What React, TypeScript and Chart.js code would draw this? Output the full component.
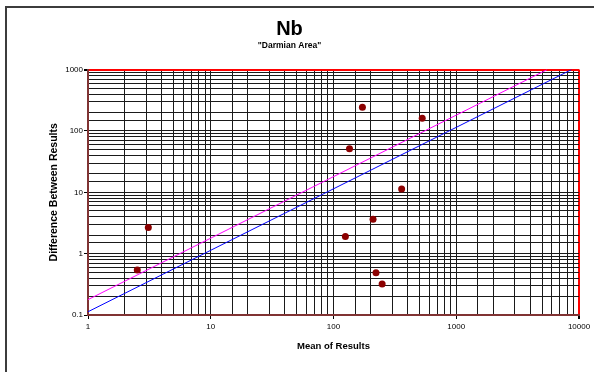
import React, { useEffect, useRef } from "react";
import { Chart, registerables } from "chart.js";

Chart.register(...registerables);

const chartTitle = "Nb";
const chartSubtitle = "\"Darmian Area\"";
const xAxisTitle = "Mean of Results";
const yAxisTitle = "Difference Between Results";

const meanValues = [2.52, 3.1, 125, 135, 172, 210, 222, 249, 359, 528];
const diffValues = [0.54, 2.67, 1.9, 51.4, 244, 3.64, 0.487, 0.319, 11.3, 161];

const blueLineX = [1, 8700];
const blueLineY = [0.113, 1000];
const pinkLineX = [1, 5500];
const pinkLineY = [0.178, 1000];

const xMin = 1;
const xMax = 10000;
const yMin = 0.1;
const yMax = 1000;

const FONT = "'Liberation Sans', Arial, sans-serif";

const isMajor = (v: number) => {
  const l = Math.log10(v);
  return Math.abs(l - Math.round(l)) < 1e-9;
};

const framePlugin = {
  id: "frame",
  beforeDraw(chart: any) {
    const ctx = chart.ctx;
    ctx.save();
    ctx.fillStyle = "#ffffff";
    ctx.fillRect(0, 0, chart.width, chart.height);
    ctx.fillStyle = "#3c3c3c";
    ctx.fillRect(5, 6, chart.width - 5, 2);
    ctx.fillRect(5, 6, 2, chart.height - 6);
    ctx.restore();
  },
};

export default function App() {
  const ref = useRef<HTMLCanvasElement | null>(null);

  useEffect(() => {
    document.body.style.margin = "0";
    if (!ref.current) return;
    const toPts = (xs: number[], ys: number[]) => xs.map((x, i) => ({ x, y: ys[i] }));
    const chart = new Chart(ref.current, {
      type: "scatter",
      data: {
        datasets: [
          {
            type: "line",
            data: toPts(pinkLineX, pinkLineY),
            borderColor: "#ff00ff",
            borderWidth: 1,
            pointRadius: 0,
            fill: false,
          } as any,
          {
            type: "line",
            data: toPts(blueLineX, blueLineY),
            borderColor: "#0000ff",
            borderWidth: 1,
            pointRadius: 0,
            fill: false,
          } as any,
          {
            data: toPts(meanValues, diffValues),
            backgroundColor: "#8b0000",
            borderColor: "#8b0000",
            pointRadius: 3.5,
            borderWidth: 0,
          },
        ],
      },
      options: {
        animation: false,
        responsive: false,
        devicePixelRatio: 1,
        layout: { padding: { left: 0, right: 15, top: 0, bottom: 0 } },
        plugins: {
          legend: { display: false },
          tooltip: { enabled: false },
          title: {
            display: true,
            text: chartTitle,
            color: "#000",
            font: { family: FONT, size: 20, weight: "bold" },
            padding: { top: 17, bottom: 0 },
          },
          subtitle: {
            display: true,
            text: chartSubtitle,
            color: "#000",
            font: { family: FONT, size: 8.5, weight: "bold" },
            padding: { top: 0, bottom: 18.4 },
          },
        },
        scales: {
          x: {
            type: "logarithmic",
            position: "bottom",
            min: xMin,
            max: xMax,
            afterFit: (scale: any) => {
              scale.height = 57;
            },
            border: { display: true, color: "#803333", width: 2 },
            grid: {
              color: (ctx: any) => (ctx.tick && ctx.tick.value >= xMax ? "#ff0000" : "#1a1a1a"),
              lineWidth: (ctx: any) => (ctx.tick && ctx.tick.value >= xMax ? 2 : 1),
              tickLength: 4,
              tickColor: (ctx: any) => (ctx.tick && isMajor(ctx.tick.value) ? "#000" : "rgba(0,0,0,0)"),
            },
            ticks: {
              autoSkip: false,
              maxRotation: 0,
              minRotation: 0,
              padding: 3,
              color: "#000",
              font: { family: FONT, size: 8 },
              callback: (v: any) => (isMajor(Number(v)) ? String(Number(v)) : ""),
            },
            title: {
              display: true,
              text: xAxisTitle,
              color: "#000",
              font: { family: FONT, size: 9.5, weight: "bold" },
              padding: { top: 0, bottom: 20 },
            },
          },
          y: {
            type: "logarithmic",
            position: "left",
            min: yMin,
            max: yMax,
            afterFit: (scale: any) => {
              scale.width = 88;
            },
            border: { display: true, color: "#803333", width: 2 },
            grid: {
              color: (ctx: any) => (ctx.tick && ctx.tick.value >= yMax ? "#ff0000" : "#1a1a1a"),
              lineWidth: (ctx: any) => (ctx.tick && ctx.tick.value >= yMax ? 2 : 1),
              tickLength: 4,
              tickColor: (ctx: any) => (ctx.tick && isMajor(ctx.tick.value) ? "#000" : "rgba(0,0,0,0)"),
            },
            ticks: {
              autoSkip: false,
              padding: 1,
              color: "#000",
              font: { family: FONT, size: 8 },
              callback: (v: any) => {
                const n = Number(v);
                if (!isMajor(n)) return "";
                return n < 1 ? n.toFixed(1) : String(Math.round(n));
              },
            },
            title: {
              display: true,
              text: yAxisTitle,
              color: "#000",
              font: { family: FONT, size: 10.5, weight: "bold" },
              padding: { top: 48, bottom: 0 },
            },
          },
        },
      } as any,
      plugins: [framePlugin],
    });
    return () => chart.destroy();
  }, []);

  return (
    <div style={{ position: "relative", width: 594, height: 372 }}>
      <canvas ref={ref} width={594} height={372} style={{ width: 594, height: 372, display: "block" }} />
    </div>
  );
}
